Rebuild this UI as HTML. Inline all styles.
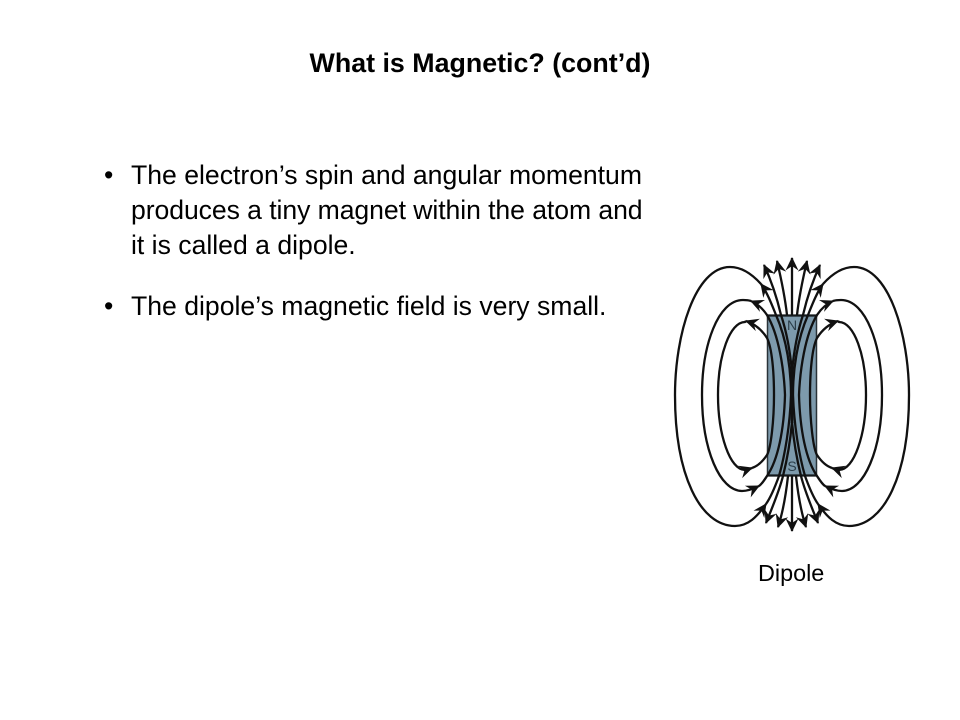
<!DOCTYPE html>
<html><head><meta charset="utf-8"><style>
html,body{margin:0;padding:0;background:#fff}
#p{position:relative;width:960px;height:720px;overflow:hidden;background:#fff;font-family:"Liberation Sans",sans-serif;color:#000}
.t{position:absolute;white-space:nowrap;font-size:26.6px;line-height:32px}
svg{position:absolute;left:0;top:0}
</style></head><body><div id="p">
<div class="t" style="left:0;width:960px;text-align:center;top:47px;font-weight:bold;font-size:26.8px">What is Magnetic? (cont’d)</div>
<div class="t" style="left:104px;top:159px">•</div>
<div class="t" style="left:131px;top:159px">The electron’s spin and angular momentum</div>
<div class="t" style="left:131px;top:194px;letter-spacing:-0.07px">produces a tiny magnet within the atom and</div>
<div class="t" style="left:131px;top:229px">it is called a dipole.</div>
<div class="t" style="left:104px;top:290px">•</div>
<div class="t" style="left:131px;top:290px">The dipole’s magnetic field is very small.</div>
<div class="t" style="left:758px;top:557px;font-size:23.4px">Dipole</div>
<svg width="960" height="720" viewBox="0 0 960 720">
<defs>
<marker id="a" markerUnits="userSpaceOnUse" markerWidth="18" markerHeight="16" refX="12.5" refY="7" orient="auto" overflow="visible">
<path d="M13.5,7 L0,0.5 L4.5,7 L0,13.5 Z" fill="#111"/>
</marker>
<g id="half" fill="none" stroke="#111" stroke-width="2.3">
<!-- top loops -->
<path d="M791,395 C791,370 787,340 776,315 C772,305 767,292 761,284" marker-end="url(#a)"/>
<path d="M761,284 C752,274 742,267 730,267 C695,267 675,335 675,395"/>
<path d="M785,395 C784,370 779,335 767,315 C763,309 758,304 751,301" marker-end="url(#a)"/>
<path d="M751,301 C748,300 746,300 743,300 C718,300 702,345 702,395"/>
<path d="M774,395 C774,372 772,348 767,338 C762,330 755,324 746,321" marker-end="url(#a)"/>
<path d="M746,321 L745,322 C730,322 718,355 718,395"/>
<!-- top fountain -->
<path d="M792,372 C790,350 786,330 781,315 C777,298 771,280 764,265" marker-end="url(#a)"/>
<path d="M787,315 C785,297 781,278 777,261" marker-end="url(#a)"/>
<!-- bottom loops -->
<path d="M675,395 C675,475 700,526 735,526 C748,526 757,517 766,504" marker-end="url(#a)"/>
<path d="M766,504 C771,497 775,487 779,476 C785,455 790,425 791,395"/>
<path d="M702,395 C702,450 720,491 742,491 C748,491 753,489 759,486" marker-end="url(#a)"/>
<path d="M759,486 C762,484 765,479 767,476 C778,460 784,430 785,395"/>
<path d="M718,395 C718,435 730,470 745,470 C747,470 749,469 752,468" marker-end="url(#a)"/>
<path d="M752,468 C758,466 763,461 767,455 C771,448 774,420 774,395"/>
<!-- bottom fountain -->
<path d="M792,422 C790,445 787,460 783,476 C779,492 772,508 766,523" marker-end="url(#a)"/>
<path d="M788,476 C786,494 783,512 778,527" marker-end="url(#a)"/>
</g>
</defs>
<rect x="767.5" y="315.5" width="49" height="160" fill="#7d9aac"/>
<path d="M767,315.5 H817 M767,475.5 H817" stroke="#14191c" stroke-width="2.2"/>
<path d="M767.5,315 V476 M816.5,315 V476" stroke="#2a3338" stroke-width="1.5"/>
<use href="#half"/>
<use href="#half" transform="translate(1584,0) scale(-1,1)"/>
<path d="M792,365 V423" fill="none" stroke="#111" stroke-width="2.6"/>
<path d="M792,315 V258" fill="none" stroke="#111" stroke-width="2.3" marker-end="url(#a)"/>
<path d="M792,476 V531" fill="none" stroke="#111" stroke-width="2.3" marker-end="url(#a)"/>
<text x="792" y="330" text-anchor="middle" font-family="Liberation Sans" font-size="14" fill="#2b3e4a">N</text>
<text x="792" y="471" text-anchor="middle" font-family="Liberation Sans" font-size="14" fill="#2b3e4a">S</text>
</svg>
</div></body></html>
